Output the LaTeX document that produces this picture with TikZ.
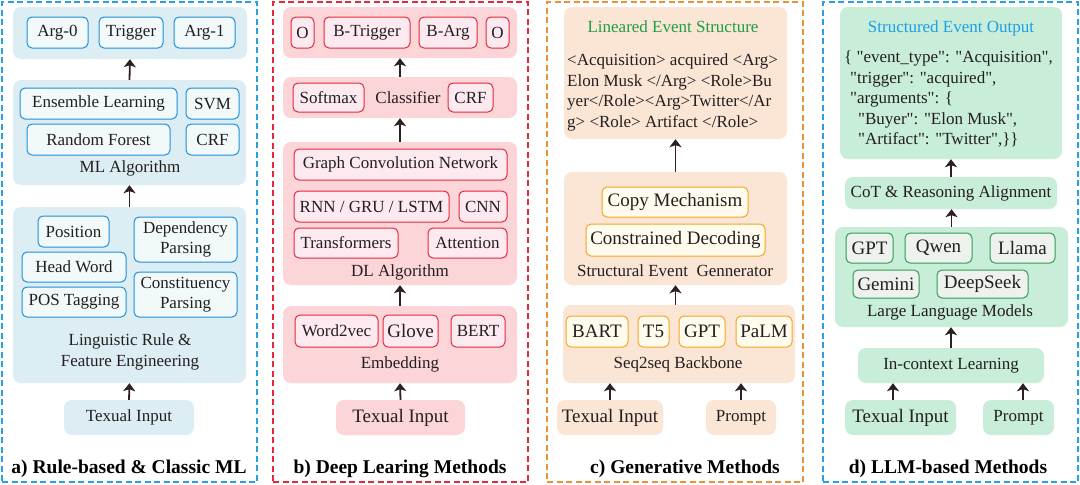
\documentclass[tikz,border=0pt]{standalone}
\usepackage{fontspec}
\setmainfont{Liberation Serif}
\newfontfamily\jsonfont[Ligatures=TeXOff]{Liberation Serif}
\usetikzlibrary{arrows.meta}
\definecolor{txt}{HTML}{231F20}
\definecolor{arrc}{HTML}{2D2020}
\definecolor{aFrame}{HTML}{2AA0E0}
\definecolor{aBg}{HTML}{DCEEF3}
\definecolor{aLine}{HTML}{1E90DC}
\definecolor{aFill}{HTML}{F2F9FB}
\definecolor{bFrame}{HTML}{E6283C}
\definecolor{bBg}{HTML}{FCD5D8}
\definecolor{bLine}{HTML}{E6283C}
\definecolor{bFill}{HTML}{FDE9F0}
\definecolor{cFrame}{HTML}{E8923A}
\definecolor{cBg}{HTML}{FBE5D5}
\definecolor{cLine}{HTML}{F5A524}
\definecolor{cFill}{HTML}{FFFCEE}
\definecolor{dBg}{HTML}{C8EDD9}
\definecolor{dLine}{HTML}{2E9E50}
\definecolor{dFill}{HTML}{EEF2EE}
\definecolor{gText}{HTML}{1E9E48}
\definecolor{bText}{HTML}{1E9FE6}
\def\bx#1#2(#3,#4)(#5,#6)#7{\node[#1,minimum width={#5-#3},minimum height={#6-#4}] (#2) at ({(#3+#5)/2},{(#4+#6)/2}) {#7};}
\begin{document}
\begin{tikzpicture}[x=1pt,y=-1pt,
  base/.style={rounded corners=5pt, inner sep=1pt, text=txt, font=\fontsize{17}{19.5}\selectfont, align=center},
  big/.style={font=\fontsize{19}{21}\selectfont},
  frm/.style={draw=#1, dash pattern=on 6pt off 3.5pt, line width=1.5pt, inner sep=0pt},
  bgA/.style={base, fill=aBg, rounded corners=8pt},
  bxA/.style={base, draw=aLine, fill=aFill, line width=1pt},
  bgB/.style={base, fill=bBg, rounded corners=8pt},
  bxB/.style={base, draw=bLine, fill=bFill, line width=1pt},
  bgC/.style={base, fill=cBg, rounded corners=8pt},
  bxC/.style={base, draw=cLine, fill=cFill, line width=1pt},
  bgD/.style={base, fill=dBg, rounded corners=8pt},
  bxD/.style={base, draw=dLine, fill=dFill, line width=1pt},
  lbl/.style={inner sep=0pt, text=txt, font=\fontsize{17}{21}\selectfont, align=center},
  ln/.style={inner sep=0pt, text=txt, font=\fontsize{17}{21}\selectfont, anchor=base west},
  jln/.style={ln, font=\jsonfont\fontsize{17}{21}\selectfont},
  ttl/.style={inner sep=0pt, text=black, font=\fontsize{19.5}{22}\selectfont\bfseries},
  arr/.style={-{Stealth[length=8pt,width=12pt,inset=2pt]}, line width=1.8pt, draw=arrc}]
\useasboundingbox (0,0) rectangle (1080,485);
% ---------- panel a ----------
\bx{frm=aFrame}{fa}(2,2)(257,482){}
\bx{bgA}{aTop}(13,7)(247,59){}
\bx{bxA}{aArg0}(27,17)(88,48){Arg-0}
\bx{bxA}{aTrig}(99,17)(163,48){Trigger}
\bx{bxA}{aArg1}(174,17)(235,48){Arg-1}
\bx{bgA}{aML}(13,80)(246,185){}
\bx{bxA}{aEns}(20,88)(177,119){Ensemble Learning}
\bx{bxA}{aSVM}(186,88)(239,119){SVM}
\bx{bxA}{aRF}(27,124)(170,155){Random Forest}
\bx{bxA}{aCRF}(186,124)(239,155){CRF}
\node[lbl] (aMLl) at (130,168) {ML Algorithm};
\bx{bgA}{aLing}(13,207)(246,383){}
\bx{bxA}{aPos}(38,216)(109,247){Position}
\bx{bxA}{aDep}(134,217)(237,262){Dependency\\Parsing}
\bx{bxA}{aHW}(22,252)(126,282){Head Word}
\bx{bxA}{aPOS}(22,287)(126,317){POS Tagging}
\bx{bxA}{aCon}(134,272)(237,317){Constituency\\Parsing}
\node[lbl] (aLingl) at (130,352) {Linguistic Rule \&\\Feature Engineering};
\bx{bgA}{aIn}(64,400)(194,435){Texual Input}
\node[ttl] (aT) at (129,469) {a) Rule-based \& Classic ML};
\draw[arr] (aML.north) -- (aTop.south);
\draw[arr] (aLing.north) -- (aML.south);
\draw[arr] (aIn.north) -- (aLing.south);
% ---------- panel b ----------
\bx{frm=bFrame}{fb}(273,2)(528,482){}
\bx{bgB}{bTop}(283,7)(517,58){}
\bx{bxB}{bO1}(291,17)(314,48){O}
\bx{bxB}{bBT}(324,17)(410,48){B-Trigger}
\bx{bxB}{bBA}(419,17)(477,48){B-Arg}
\bx{bxB}{bO2}(486,17)(509,48){O}
\bx{bgB}{bCls}(283,77)(517,118){}
\bx{bxB}{bSm}(293,83)(364,112){Softmax}
\node[lbl] (bClsl) at (408,98) {Classifier};
\bx{bxB}{bCRF}(448,83)(493,112){CRF}
\bx{bgB}{bDL}(283,142)(517,285){}
\bx{bxB}{bGCN}(294,149)(507,180){Graph Convolution Network}
\bx{bxB}{bRNN}(294,191)(449,222){RNN / GRU / LSTM}
\bx{bxB}{bCNN}(459,191)(507,222){CNN}
\bx{bxB}{bTr}(294,228)(398,258){Transformers}
\bx{bxB}{bAtt}(428,228)(507,258){Attention}
\node[lbl] (bDLl) at (400,272) {DL Algorithm};
\bx{bgB}{bEmb}(283,306)(517,383){}
\bx{bxB}{bW2v}(295,315)(378,347){Word2vec}
\bx{bxB,big}{bGlo}(383,315)(438,347){Glove}
\bx{bxB}{bBERT}(451,315)(505,347){BERT}
\node[lbl] (bEmbl) at (400,364) {Embedding};
\bx{bgB,big}{bIn}(336,400)(465,435){Texual Input}
\node[ttl] (bT) at (400,469) {b) Deep Learing Methods};
\draw[arr] (bCls.north) -- (bTop.south);
\draw[arr] (bDL.north) -- (bCls.south);
\draw[arr] (bEmb.north) -- (bDL.south);
\draw[arr] (bIn.north) -- (bEmb.south);
% ---------- panel c ----------
\bx{frm=cFrame}{fc}(547,2)(803,482){}
\bx{bgC}{cTop}(564,7)(787,139){}
\node[lbl, text=gText] (cTopl) at (673,27) {Lineared Event Structure};
\node[ln] (cL1) at (567,65) {<Acquisition> acquired <Arg>};
\node[ln] (cL2) at (567,86) {Elon Musk </Arg> <Role>Bu};
\node[ln] (cL3) at (567,106) {yer</Role><Arg>Twitter</Ar};
\node[ln] (cL4) at (567,127) {g> <Role> Artifact </Role>};
\bx{bgC}{cGen}(564,172)(787,285){}
\bx{bxC,big}{cCopy}(602,187)(748,217){Copy Mechanism}
\bx{bxC,big}{cCons}(586,224)(765,256){Constrained Decoding}
\node[lbl] (cGenl) at (675,271) {Structural Event\ \ Gennerator};
\bx{bgC}{cSeq}(563,305)(795,383){}
\bx{bxC,big}{cBART}(566,316)(628,347){BART}
\bx{bxC,big}{cT5}(638,316)(669,347){T5}
\bx{bxC,big}{cGPT}(679,316)(725,347){GPT}
\bx{bxC,big}{cPaLM}(736,316)(792,347){PaLM}
\node[lbl] (cSeql) at (678,364) {Seq2seq Backbone};
\bx{bgC,big}{cIn}(557,400)(663,435){Texual Input}
\bx{bgC}{cPr}(706,400)(776,435){Prompt}
\node[ttl] (cT) at (685,469) {c) Generative Methods};
\draw[arr] (cGen.north) -- (cTop.south);
\draw[arr] (cSeq.north -| cGen.south) -- (cGen.south);
\draw[arr] (cIn.north) -- (cIn.north |- cSeq.south);
\draw[arr] (cPr.north) -- (cPr.north |- cSeq.south);
% ---------- panel d ----------
\bx{frm=aFrame}{fd}(823,2)(1078,482){}
\bx{bgD}{dTop}(840,7)(1062,159){}
\node[lbl, text=bText] (dTopl) at (951,28) {Structured Event Output};
\node[jln] (dL1) at (844,62) {\{ "event\_type": "Acquisition",};
\node[jln] (dL2) at (850,83) {"trigger": "acquired",};
\node[jln] (dL3) at (850,103) {"arguments": \{};
\node[jln] (dL4) at (858,124) {"Buyer": "Elon Musk",};
\node[jln] (dL5) at (858,144) {"Artifact": "Twitter",\}\}};
\bx{bgD}{dCoT}(845,177)(1057,209){CoT \& Reasoning Alignment}
\bx{bgD}{dLLM}(835,227)(1068,327){}
\bx{bxD,big}{dGPT}(846,233)(893,263){GPT}
\bx{bxD,big}{dQwen}(905,233)(972,263){Qwen}
\bx{bxD,big}{dLlama}(990,233)(1055,263){Llama}
\bx{bxD,big}{dGem}(853,270)(919,298){Gemini}
\bx{bxD,big}{dDS}(937,270)(1028,298){DeepSeek}
\node[lbl] (dLLMl) at (950,312) {Large Language Models};
\bx{bgD}{dICL}(858,348)(1044,383){In-context Learning}
\bx{bgD,big}{dIn}(845,400)(956,435){Texual Input}
\bx{bgD}{dPr}(983,400)(1054,435){Prompt}
\node[ttl] (dT) at (948,469) {d) LLM-based Methods};
\draw[arr] (dCoT.north) -- (dCoT.north |- dTop.south);
\draw[arr] (dLLM.north) -- (dLLM.north |- dCoT.south);
\draw[arr] (dICL.north) -- (dICL.north |- dLLM.south);
\draw[arr] ([xshift=-7.5pt]dIn.north) -- ([xshift=-7.5pt]dIn.north |- dICL.south);
\draw[arr] ([xshift=4.5pt]dPr.north) -- ([xshift=4.5pt]dPr.north |- dICL.south);
\end{tikzpicture}
\end{document}
